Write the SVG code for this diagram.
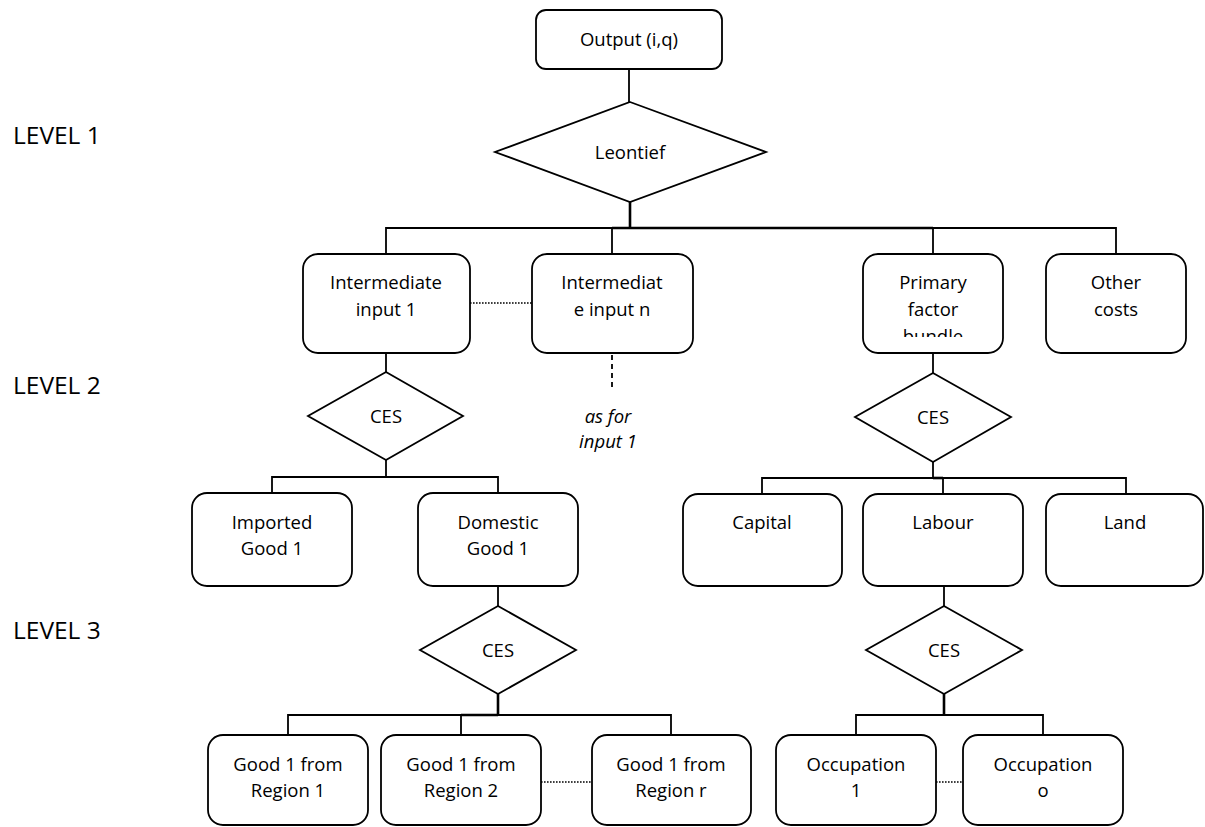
<svg xmlns="http://www.w3.org/2000/svg" width="1205" height="827" viewBox="0 0 1205 827">
<defs>
<style>
.box{fill:#fff;stroke:#000;stroke-width:1.8}
.dia{fill:#fff;stroke:#000;stroke-width:1.8}
.ln{fill:none;stroke:#000;stroke-width:1.8}
.stem{fill:none;stroke:#000;stroke-width:2.6}
.dot{fill:none;stroke:#000;stroke-width:1.6;stroke-dasharray:1.6 1.4}
.dash{fill:none;stroke:#000;stroke-width:1.8;stroke-dasharray:5 4}
text{font-family:"Open Sans","Noto Sans","Liberation Sans",sans-serif;font-size:18.5px;fill:#000;text-anchor:middle}
.lvl{font-size:24.5px;text-anchor:start}
.it{font-style:italic}
</style>
<clipPath id="clipPF"><rect x="863" y="254" width="140" height="83"/></clipPath>
</defs>

<g id="level-labels">
<text class="lvl" x="13" y="144">LEVEL 1</text>
<text class="lvl" x="13" y="394">LEVEL 2</text>
<text class="lvl" x="13" y="639">LEVEL 3</text>
</g>

<g id="connectors">
<line class="ln" x1="629" y1="69" x2="629" y2="102"/>
<line class="stem" x1="630" y1="202" x2="630" y2="228"/>
<polyline class="ln" points="386,254 386,228 1116,228 1116,254"/>
<line class="stem" x1="612" y1="228" x2="933" y2="228"/>
<line class="ln" x1="612" y1="228" x2="612" y2="254"/>
<line class="ln" x1="933" y1="228" x2="933" y2="255"/>
<line class="dot" x1="470" y1="303" x2="532" y2="303"/>
<line class="dash" x1="612" y1="355" x2="612" y2="388"/>
<line class="ln" x1="386" y1="353" x2="386" y2="372"/>
<line class="ln" x1="386" y1="460" x2="386" y2="477"/>
<polyline class="ln" points="272,493 272,477 498,477 498,493"/>
<line class="ln" x1="933" y1="353" x2="933" y2="373"/>
<line class="ln" x1="933" y1="462" x2="933" y2="478"/>
<polyline class="ln" points="762,494 762,478 1126,478 1126,494"/>
<line class="stem" x1="933" y1="478" x2="943" y2="478"/>
<line class="ln" x1="943" y1="478" x2="943" y2="494"/>
<line class="ln" x1="498" y1="586" x2="498" y2="606"/>
<line class="stem" x1="498" y1="694" x2="498" y2="715"/>
<polyline class="ln" points="288,735 288,715 671,715 671,735"/>
<line class="stem" x1="461" y1="715" x2="498" y2="715"/>
<line class="ln" x1="461" y1="715" x2="461" y2="735"/>
<line class="dot" x1="541" y1="782" x2="592" y2="782"/>
<line class="ln" x1="944" y1="586" x2="944" y2="606"/>
<line class="stem" x1="944" y1="694" x2="944" y2="715"/>
<polyline class="ln" points="856,735 856,715 1043,715 1043,735"/>
<line class="dot" x1="936" y1="782" x2="963" y2="782"/>
</g>

<g id="output">
<rect class="box" x="536" y="10" width="186" height="59" rx="10"/>
<text x="629" y="46">Output (i,q)</text>
</g>

<g id="leontief">
<polygon class="dia" points="630,102 766,152 630,202 495,152"/>
<text x="630" y="159">Leontief</text>
</g>

<g id="intermediate-input-1">
<rect class="box" x="303" y="254" width="167" height="99" rx="15"/>
<text x="386" y="289">Intermediate</text>
<text x="386" y="316">input 1</text>
</g>

<g id="intermediate-input-n">
<rect class="box" x="532" y="254" width="161" height="99" rx="15"/>
<text x="612" y="289">Intermediat</text>
<text x="612" y="316">e input n</text>
</g>

<g id="as-for-input-1">
<text class="it" x="608" y="423">as for</text>
<text class="it" x="608" y="448">input 1</text>
</g>

<g id="primary-factor-bundle">
<rect class="box" x="863" y="254" width="140" height="99" rx="15"/>
<g clip-path="url(#clipPF)">
<text x="933" y="289">Primary</text>
<text x="933" y="316">factor</text>
<text x="933" y="343">bundle</text>
</g>
</g>

<g id="other-costs">
<rect class="box" x="1046" y="254" width="140" height="99" rx="15"/>
<text x="1116" y="289">Other</text>
<text x="1116" y="316">costs</text>
</g>

<g id="ces-input">
<polygon class="dia" points="386,372 463,416 386,460 308,416"/>
<text x="386" y="423">CES</text>
</g>

<g id="ces-primary">
<polygon class="dia" points="933,373 1011,417 933,462 855,417"/>
<text x="933" y="424">CES</text>
</g>

<g id="imported-good-1">
<rect class="box" x="192" y="493" width="160" height="93" rx="15"/>
<text x="272" y="529">Imported</text>
<text x="272" y="555">Good 1</text>
</g>

<g id="domestic-good-1">
<rect class="box" x="418" y="493" width="160" height="93" rx="15"/>
<text x="498" y="529">Domestic</text>
<text x="498" y="555">Good 1</text>
</g>

<g id="capital">
<rect class="box" x="683" y="494" width="159" height="92" rx="15"/>
<text x="762" y="529">Capital</text>
</g>

<g id="labour">
<rect class="box" x="863" y="494" width="160" height="92" rx="15"/>
<text x="943" y="529">Labour</text>
</g>

<g id="land">
<rect class="box" x="1046" y="494" width="157" height="92" rx="15"/>
<text x="1125" y="529">Land</text>
</g>

<g id="ces-domestic">
<polygon class="dia" points="498,606 576,650 498,694 420,650"/>
<text x="498" y="657">CES</text>
</g>

<g id="ces-labour">
<polygon class="dia" points="944,606 1022,650 944,694 866,650"/>
<text x="944" y="657">CES</text>
</g>

<g id="good-1-region-1">
<rect class="box" x="208" y="735" width="160" height="90" rx="15"/>
<text x="288" y="771">Good 1 from</text>
<text x="288" y="797">Region 1</text>
</g>

<g id="good-1-region-2">
<rect class="box" x="381" y="735" width="160" height="90" rx="15"/>
<text x="461" y="771">Good 1 from</text>
<text x="461" y="797">Region 2</text>
</g>

<g id="good-1-region-r">
<rect class="box" x="592" y="735" width="159" height="90" rx="15"/>
<text x="671" y="771">Good 1 from</text>
<text x="671" y="797">Region r</text>
</g>

<g id="occupation-1">
<rect class="box" x="776" y="735" width="160" height="90" rx="15"/>
<text x="856" y="771">Occupation</text>
<text x="856" y="797">1</text>
</g>

<g id="occupation-o">
<rect class="box" x="963" y="735" width="160" height="90" rx="15"/>
<text x="1043" y="771">Occupation</text>
<text x="1043" y="797">o</text>
</g>
</svg>
